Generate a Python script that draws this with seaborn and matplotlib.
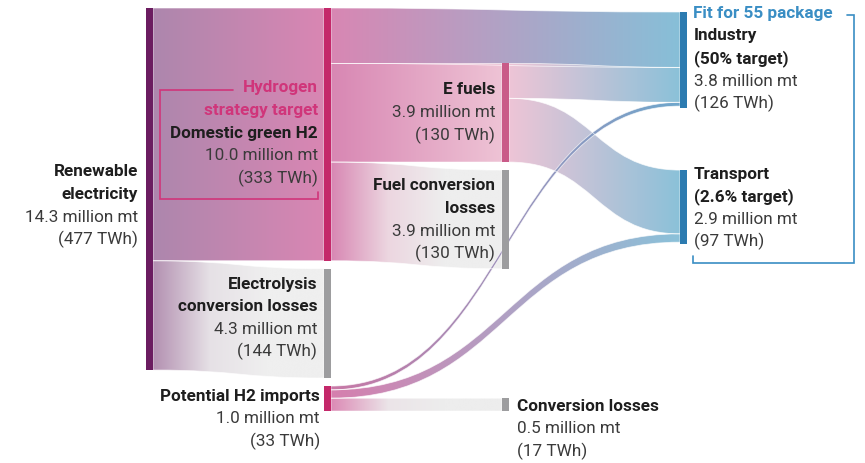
import matplotlib
matplotlib.use("Agg")
import matplotlib.pyplot as plt
from matplotlib.path import Path
from matplotlib.patches import PathPatch, Rectangle
import numpy as np
import seaborn as sns

# ---------------- data ----------------
nodes = ["Renewable electricity", "Domestic green H2", "Electrolysis conversion losses",
         "Potential H2 imports", "E fuels", "Fuel conversion losses", "Conversion losses",
         "Industry", "Transport"]
node_twh = [477, 333, 144, 33, 130, 130, 17, 126, 97]
node_mt = [14.3, 10.0, 4.3, 1.0, 3.9, 3.9, 0.5, 3.8, 2.9]

flow_src = ["Renewable electricity", "Renewable electricity",
            "Domestic green H2", "Domestic green H2", "Domestic green H2",
            "E fuels", "E fuels",
            "Potential H2 imports", "Potential H2 imports", "Potential H2 imports"]
flow_dst = ["Domestic green H2", "Electrolysis conversion losses",
            "Industry", "E fuels", "Fuel conversion losses",
            "Industry", "Transport",
            "Industry", "Transport", "Conversion losses"]
flow_twh = [333, 144, 73, 130, 130, 46, 84, 5, 11, 17]

# ---------------- styling ----------------
node_col = [0, 1, 1, 1, 2, 2, 2, 3, 3]
node_color = ["#6b1c60", "#c4286a", "#9d9d9f", "#c4286a", "#c95b88",
              "#9d9d9f", "#9d9d9f", "#2c7bb0", "#2c7bb0"]
flow_colors = [
    ["#ad86ad", "#d987b3"],
    ["#b390b1", "#e6e1e6", "#efefef", "#efefef"],
    ["#d887b3", "#87bfd8"],
    ["#d887b3", "#eec3d5"],
    ["#d887b3", "#ecd6e0", "#eeeeee", "#eeeeee"],
    ["#eec5d6", "#8bc1d9"],
    ["#eec5d6", "#8bc1d9"],
    ["#c878a6", "#6fa7cc"],
    ["#d67fae", "#8bc1d9"],
    ["#dc8ab5", "#ebe4e8", "#ededed", "#ededed"],
]

W, H = 865, 463
PX = 0.759          # pixels per TWh
TOP_PX = 8
COL_X = [146, 324, 502, 680]
BAR = 7
GAP = 8 / PX

sns.set_theme(style="white")
plt.rcParams["font.family"] = ["Roboto", "DejaVu Sans"]

fig = plt.figure(figsize=(W / 100, H / 100), dpi=100)
ax = fig.add_axes([0, 0, 1, 1])

twh = dict(zip(nodes, node_twh))
mt = dict(zip(nodes, node_mt))
col = dict(zip(nodes, node_col))
ncolor = dict(zip(nodes, node_color))


def px_y(p):
    return (p - TOP_PX) / PX


# ---------------- layout ----------------
top = {}
out_cur, in_cur = {}, {}
src_y, dst_y = [None] * len(flow_twh), [None] * len(flow_twh)


def place_outflows(node):
    out_cur[node] = top[node]
    for i, s in enumerate(flow_src):
        if s == node:
            src_y[i] = out_cur[node]
            out_cur[node] += flow_twh[i]


def inflow_source(node):
    return src_y[flow_dst.index(node)]


top["Renewable electricity"] = 0
place_outflows("Renewable electricity")
top["Domestic green H2"] = 0
top["Electrolysis conversion losses"] = top["Domestic green H2"] + twh["Domestic green H2"] + GAP
top["Potential H2 imports"] = (top["Electrolysis conversion losses"]
                               + twh["Electrolysis conversion losses"] + GAP)
for n in ["Domestic green H2", "Electrolysis conversion losses", "Potential H2 imports"]:
    place_outflows(n)
top["E fuels"] = inflow_source("E fuels")
top["Fuel conversion losses"] = top["E fuels"] + twh["E fuels"] + GAP
top["Conversion losses"] = inflow_source("Conversion losses")
for n in ["E fuels", "Fuel conversion losses", "Conversion losses"]:
    place_outflows(n)
top["Industry"] = px_y(12)
top["Transport"] = top["Fuel conversion losses"]

for n in nodes:
    in_cur[n] = top[n]
for i, d in enumerate(flow_dst):
    dst_y[i] = in_cur[d]
    in_cur[d] += flow_twh[i]


# ---------------- flows ----------------
def ribbon(i):
    s, d = flow_src[i], flow_dst[i]
    x0 = COL_X[col[s]] + BAR
    x1 = COL_X[col[d]]
    y0, y1, h = src_y[i], dst_y[i], flow_twh[i]
    xm = (x0 + x1) / 2
    verts = [(x0, y0), (xm, y0), (xm, y1), (x1, y1), (x1, y1 + h),
             (xm, y1 + h), (xm, y0 + h), (x0, y0 + h), (x0, y0)]
    codes = [Path.MOVETO, Path.CURVE4, Path.CURVE4, Path.CURVE4, Path.LINETO,
             Path.CURVE4, Path.CURVE4, Path.CURVE4, Path.CLOSEPOLY]
    path = Path(verts, codes)
    clip = PathPatch(path, facecolor="none", edgecolor="none")
    ax.add_patch(clip)
    cmap = sns.blend_palette(flow_colors[i], n_colors=256, as_cmap=True)
    grad = np.linspace(0, 1, 256).reshape(1, -1)
    ys = [v[1] for v in verts]
    im = ax.imshow(grad, cmap=cmap, aspect="auto", interpolation="bilinear",
                   extent=[x0, x1, max(ys), min(ys)], zorder=1)
    im.set_clip_path(clip)
    ax.add_patch(PathPatch(path, facecolor="none", edgecolor="white",
                           lw=0.6, alpha=0.7, zorder=2))


draw_order = [0, 1, 2, 3, 4, 5, 6, 8, 9, 7]
for i in draw_order:
    ribbon(i)

# ---------------- nodes ----------------
for n in nodes:
    ax.add_patch(Rectangle((COL_X[col[n]], top[n]), BAR, twh[n],
                           facecolor=ncolor[n], edgecolor="none", zorder=3))

# ---------------- labels ----------------
FS = 12.3
LINE = 22.6 / PX
NAME_C = "#1e1e1e"
VAL_C = "#3a3a3a"
PINK = "#d0357a"
BLUE = "#3a8ec4"


def label(x, y_first_px, head, node, ha, head_color=None):
    y = px_y(y_first_px)
    lines = [(t, "bold", head_color or NAME_C) for t in head]
    lines += [(f"{mt[node]:.1f} million mt", "normal", VAL_C),
              (f"({twh[node]} TWh)", "normal", VAL_C)]
    for k, (t, w, c) in enumerate(lines):
        ax.text(x, y + k * LINE, t, ha=ha, va="center", fontsize=FS,
                fontweight=w, color=c, zorder=5)


label(138, 172, ["Renewable", "electricity"], "Renewable electricity", "right")
ax.text(318, px_y(88), "Hydrogen", ha="right", va="center", fontsize=FS,
        fontweight="bold", color=PINK, zorder=5)
ax.text(318, px_y(88) + LINE, "strategy target", ha="right", va="center",
        fontsize=FS, fontweight="bold", color=PINK, zorder=5)
label(318, 88 + 2 * 22.6, ["Domestic green H2"], "Domestic green H2", "right")
label(495, 90, ["E fuels"], "E fuels", "right")
label(495, 186, ["Fuel conversion", "losses"], "Fuel conversion losses", "right")
label(317, 284, ["Electrolysis", "conversion losses"], "Electrolysis conversion losses", "right")
label(320, 396, ["Potential H2 imports"], "Potential H2 imports", "right")
label(517, 406, ["Conversion losses"], "Conversion losses", "left")
ax.text(693, px_y(14), "Fit for 55 package", ha="left", va="center",
        fontsize=FS, fontweight="bold", color=BLUE, zorder=5)
label(694, 36, ["Industry", "(50% target)"], "Industry", "left")
label(694, 174, ["Transport", "(2.6% target)"], "Transport", "left")

# brackets
ax.plot([233, 160, 160, 318, 318],
        [px_y(90), px_y(90), px_y(199), px_y(199), px_y(192)],
        color=PINK, lw=1.2, solid_joinstyle="miter", zorder=4)
ax.plot([847, 854, 854, 693, 693],
        [px_y(15), px_y(15), px_y(263), px_y(263), px_y(256)],
        color=BLUE, lw=1.2, solid_joinstyle="miter", zorder=4)

ax.set_xlim(0, W)
ax.set_ylim(px_y(H), px_y(0))
ax.set_aspect("auto")
ax.axis("off")
sns.despine(ax=ax, left=True, bottom=True)

fig.savefig("out.png", dpi=100, facecolor="white")
